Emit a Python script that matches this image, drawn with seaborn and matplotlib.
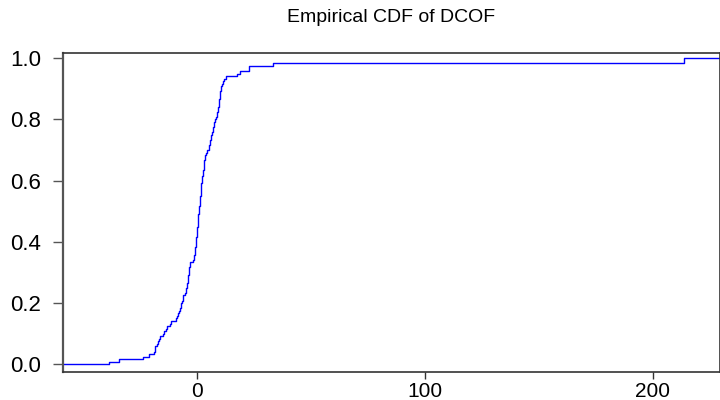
import matplotlib
matplotlib.use("Agg")
import matplotlib.pyplot as plt
import seaborn as sns
import numpy as np

# Observations of DCOF (read from the empirical CDF steps)
dcof_low = [-38.7, -34.3, -23.8, -21.2,
            -19.2, -18.8, -18.4, -17.8,
            -17.2, -16.8, -16.3,
            -15.2, -14.6, -13.6, -13.2, -12.0, -11.6, -9.4, -8.9,
            -8.3, -8.0, -7.7, -7.3, -7.0, -6.7, -6.4, -6.1,
            -5.6, -5.1, -4.8]
dcof_mid = [-4.5, -4.4, -4.2, -4.1, -3.9, -3.8, -3.6, -3.5, -3.3, -3.2,
            -1.8,
            -1.5, -1.3, -1.2, -1.0, -0.9, -0.8, -0.6, -0.5, -0.4, -0.3, -0.2, -0.1, 0.0,
            0.1, 0.2, 0.3, 0.4, 0.5, 0.6, 0.8, 0.9,
            1.0, 1.1, 1.2, 1.3, 1.4, 1.5, 1.6, 1.7, 1.8, 1.9, 2.0, 2.2, 2.4,
            2.6, 2.7, 2.8, 3.0, 3.1, 3.3, 3.5]
dcof_high = [4.0, 4.3,
             5.0, 5.2, 5.4, 5.6, 5.8, 6.2,
             6.6, 6.8, 7.0, 7.3, 7.5, 7.8,
             8.2, 8.5, 8.8,
             9.0, 9.2, 9.3, 9.5, 9.6, 9.8, 9.9, 10.1, 10.3,
             10.6, 10.9, 11.2, 11.8, 12.4,
             17.2, 18.7, 22.8, 22.8, 33.0, 213.8, 213.8]
dcof = np.array(dcof_low + dcof_mid + dcof_high)

title = "Empirical CDF of DCOF"
x_ticks = [0, 100, 200]
y_ticks = [0.0, 0.2, 0.4, 0.6, 0.8, 1.0]
x_range = (-59, 229.5)
y_range = (-0.025, 1.017)

sns.set_style("ticks")
plt.rcParams['font.family'] = ['Liberation Sans', 'DejaVu Sans']

fig = plt.figure(figsize=(7.2, 4.0), dpi=100)
ax = fig.add_axes([0.0875, 0.07, 0.9125, 0.7975])

sns.ecdfplot(x=dcof, ax=ax, color="#0000FF", linewidth=1.0)
# extend the CDF to the axis edges (0 before the minimum, 1 after the maximum)
ax.hlines(0.0, x_range[0], dcof.min(), color="#0000FF", linewidth=1.0)
ax.hlines(1.0, dcof.max(), x_range[1], color="#0000FF", linewidth=1.0)

ax.set_xlim(*x_range)
ax.set_ylim(*y_range)
ax.set_xticks(x_ticks)
ax.set_yticks(y_ticks)
ax.set_yticklabels([f"{v:.1f}" for v in y_ticks])
ax.set_xlabel("")
ax.set_ylabel("")
ax.tick_params(axis='y', labelsize=16, length=7, width=1, color="#555555",
               pad=9, labelcolor="black")
ax.tick_params(axis='x', labelsize=15, length=5, width=1, color="#333333",
               pad=2, labelcolor="black")
for s in ax.spines.values():
    s.set_color("#333333")
    s.set_linewidth(1.2)
ax.spines['left'].set_color("#555555")
ax.spines['left'].set_linewidth(1.6)
ax.set_title(title, fontsize=14, pad=22, color="black")

fig.savefig("out.png", dpi=100)
